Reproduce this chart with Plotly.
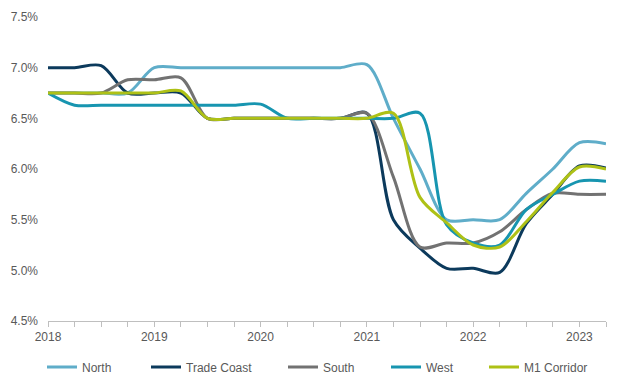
import plotly.graph_objects as go

quarters = list(range(22))  # 2018 Q1 .. 2023 Q2
year_ticks = [0, 4, 8, 12, 16, 20]
year_labels = ["2018", "2019", "2020", "2021", "2022", "2023"]
y_ticks = [4.5, 5.0, 5.5, 6.0, 6.5, 7.0, 7.5]
y_labels = ["4.5%", "5.0%", "5.5%", "6.0%", "6.5%", "7.0%", "7.5%"]

north = [6.75, 6.75, 6.75, 6.75, 7.0, 7.0, 7.0, 7.0, 7.0, 7.0, 7.0, 7.0,
         7.03, 6.5, 6.0, 5.5, 5.5, 5.5, 5.76, 6.0, 6.26, 6.25]
trade_coast = [7.0, 7.0, 7.02, 6.75, 6.75, 6.75, 6.5, 6.5, 6.5, 6.5, 6.5, 6.5,
               6.55, 5.5, 5.22, 5.02, 5.02, 4.98, 5.46, 5.75, 6.03, 6.01]
south = [6.75, 6.75, 6.75, 6.88, 6.88, 6.9, 6.5, 6.5, 6.5, 6.5, 6.5, 6.5,
         6.55, 5.92, 5.23, 5.27, 5.27, 5.38, 5.6, 5.76, 5.75, 5.75]
west = [6.75, 6.63, 6.63, 6.63, 6.63, 6.63, 6.63, 6.63, 6.64, 6.5, 6.5, 6.5,
        6.5, 6.5, 6.55, 5.45, 5.27, 5.25, 5.6, 5.75, 5.88, 5.88]
m1_corridor = [6.75, 6.75, 6.75, 6.75, 6.75, 6.77, 6.5, 6.5, 6.5, 6.5, 6.5, 6.5,
               6.5, 6.55, 5.72, 5.47, 5.25, 5.23, 5.48, 5.77, 6.02, 6.0]

series_names = ["North", "Trade Coast", "South", "West", "M1 Corridor"]
series_values = [north, trade_coast, south, west, m1_corridor]
series_colors = ["#5FADC9", "#0C3A5C", "#727272", "#1795B0", "#AEC116"]
legend_x = [42, 146, 283, 386, 484]  # legend entry positions (px)

font = dict(family="Liberation Sans, Arial, sans-serif", size=12, color="#595959")

fig = go.Figure()
legend_layouts = {}
for i, (name, vals, color) in enumerate(zip(series_names, series_values, series_colors)):
    lname = "legend" if i == 0 else f"legend{i + 1}"
    fig.add_trace(go.Scatter(
        x=quarters, y=vals, name=name, mode="lines", legend=lname,
        line=dict(color=color, width=3, shape="spline", smoothing=0.9),
    ))
    legend_layouts[lname] = dict(
        orientation="h", xref="container", x=legend_x[i] / 622, xanchor="left",
        yref="container", y=0.047, yanchor="middle",
        font=font, itemwidth=30, bgcolor="rgba(0,0,0,0)")

fig.update_layout(
    width=622, height=385,
    margin=dict(l=48, r=16, t=17, b=64, autoexpand=False),
    paper_bgcolor="white", plot_bgcolor="white",
    font=font,
    showlegend=True,
    xaxis=dict(range=[0, 21], tickmode="array", tickvals=year_ticks,
               ticktext=year_labels, showgrid=False, zeroline=False,
               showline=True, linecolor="#BFBFBF", linewidth=1,
               ticks="outside", tickcolor="#BFBFBF", ticklen=5,
               minor=dict(tickmode="linear", tick0=0, dtick=1, ticks="outside",
                          ticklen=5, tickcolor="#BFBFBF", showgrid=False),
               tickfont=font, automargin=False),
    yaxis=dict(range=[4.5, 7.5], tickmode="array",
               tickvals=y_ticks, ticktext=y_labels, showgrid=False,
               zeroline=False, showline=False, ticks="", tickfont=font,
               ticklabelstandoff=9, automargin=False),
    **legend_layouts,
)

fig.write_html("out.html", config={"displayModeBar": False},
               post_script="document.body.style.margin='0';")
